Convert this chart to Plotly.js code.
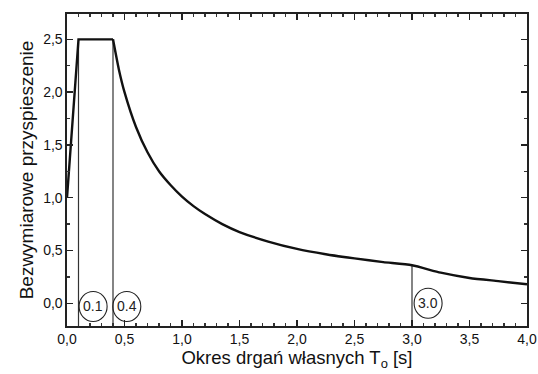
<!DOCTYPE html>
<html>
<head>
<meta charset="utf-8">
<script src="https://cdn.plot.ly/plotly-3.0.1.min.js"></script>
<style>html,body{margin:0;padding:0;background:#fff;}#chart{width:538px;height:374px;}</style>
</head>
<body>
<div id="chart"></div>
<script>
// Rising branch and plateau
const riseT = [0.0, 0.1, 0.4];
const riseA = [1.0, 2.5, 2.5];
// Descending branch
const periodT = [0.4, 0.45, 0.5, 0.6, 0.7, 0.8, 0.9, 1.0, 1.1, 1.2, 1.35, 1.5, 1.75, 2.0, 2.25, 2.5, 2.75, 3.0, 3.25, 3.5, 3.75, 4.0];
const accel   = [2.5, 2.22, 2.0, 1.67, 1.43, 1.25, 1.12, 1.01, 0.92, 0.845, 0.75, 0.675, 0.585, 0.515, 0.465, 0.425, 0.39, 0.36, 0.29, 0.24, 0.21, 0.18];

// Characteristic periods (vertical markers) and their top values
const markerT   = [0.1, 0.4, 3.0];
const markerTop = [2.5, 2.5, 0.36];
const markerLabels = ['0.1', '0.4', '3.0'];
const labelT = [0.227, 0.52, 3.14];
const labelY = [-0.03, -0.03, 0.0];

const yMin = -0.215, yMax = 2.74;
const FONT = 'Liberation Sans, Arial, sans-serif';

const traces = [];
markerT.forEach((t, i) => {
  traces.push({
    x: [t, t], y: [yMin, markerTop[i]], mode: 'lines',
    line: {color: '#333', width: 1.2}, hoverinfo: 'skip', showlegend: false
  });
});
traces.push({
  x: riseT, y: riseA, mode: 'lines',
  line: {color: '#111', width: 2.4}, showlegend: false
});
traces.push({
  x: periodT, y: accel, mode: 'lines',
  line: {color: '#111', width: 2.4, shape: 'spline', smoothing: 0.6},
  showlegend: false
});

const shapes = [], annotations = [];
labelT.forEach((t, i) => {
  shapes.push({type: 'circle', xref: 'x', yref: 'y', xsizemode: 'pixel', ysizemode: 'pixel',
    xanchor: t, yanchor: labelY[i], x0: -14, x1: 14, y0: -15, y1: 15,
    line: {color: '#222', width: 1.1}, fillcolor: 'rgba(255,255,255,0)'});
  annotations.push({x: t, y: labelY[i], xref: 'x', yref: 'y', text: markerLabels[i],
    showarrow: false, font: {family: FONT, size: 14, color: '#222'}});
});

const layout = {
  width: 538, height: 374,
  margin: {l: 67, r: 11, t: 14, b: 48},
  paper_bgcolor: '#fff', plot_bgcolor: '#fff',
  separators: ',.',
  font: {family: FONT, color: '#111'},
  xaxis: {
    range: [0, 4], dtick: 0.5, tickformat: '.1f', ticks: 'inside', ticklen: 6, tickwidth: 1.3,
    tickcolor: '#222', showline: true, linecolor: '#222', linewidth: 1.6, mirror: 'ticks',
    showgrid: false, zeroline: false, tickfont: {size: 14, color: '#111'},
    minor: {dtick: 0.1, ticks: 'inside', ticklen: 3, tickcolor: '#333', showgrid: false},
    title: {text: 'Okres drgań własnych T<sub>o</sub> [s]', font: {size: 18.5, color: '#111'}, standoff: 2}
  },
  yaxis: {
    range: [yMin, yMax], dtick: 0.5, tick0: 0, tickformat: '.1f', ticks: 'inside', ticklen: 6, tickwidth: 1.3,
    tickcolor: '#222', showline: true, linecolor: '#222', linewidth: 1.6, mirror: 'ticks',
    showgrid: false, zeroline: false, tickfont: {size: 14, color: '#111'},
    minor: {dtick: 0.25, ticks: 'inside', ticklen: 3, tickcolor: '#333', showgrid: false},
    title: {text: 'Bezwymiarowe przyspieszenie', font: {size: 19, color: '#111'}, standoff: 4}
  },
  shapes: shapes,
  annotations: annotations
};

Plotly.newPlot('chart', traces, layout, {staticPlot: true, displayModeBar: false});
</script>
</body>
</html>
